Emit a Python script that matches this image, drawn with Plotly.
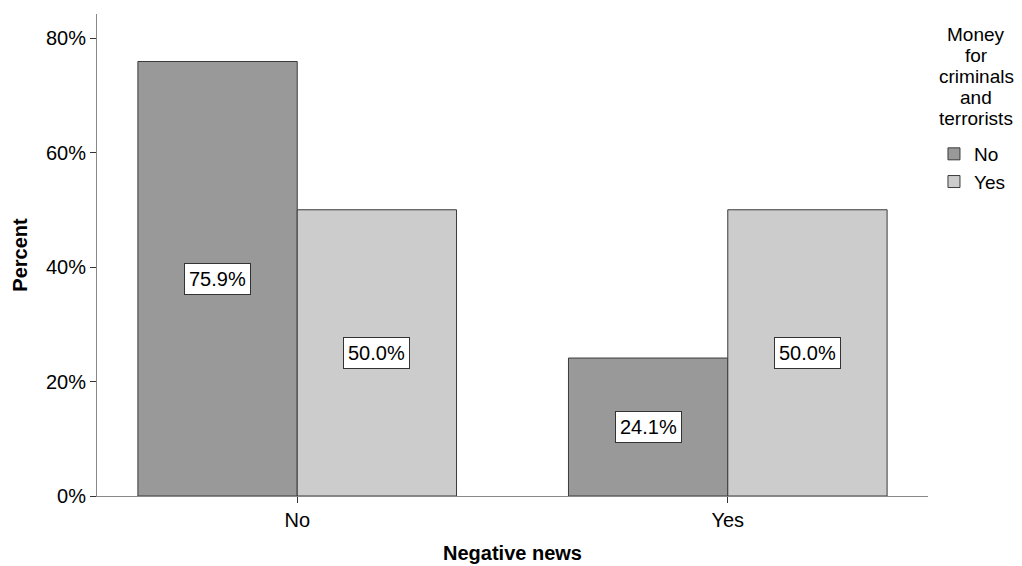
import plotly.graph_objects as go

categories = ["No", "Yes"]
series_names = ["No", "Yes"]
values_no = [75.9, 24.1]
values_yes = [50.0, 50.0]
colors = ["#999999", "#cccccc"]
y_ticks = [0, 20, 40, 60, 80]
y_tick_labels = ["0%", "20%", "40%", "60%", "80%"]
legend_title_lines = ["Money", "for", "criminals", "and", "terrorists"]

FONT = "Liberation Sans, Arial, sans-serif"
FS = 20
bargap = 0.26
bar_w = (1 - bargap) / 2

fig = go.Figure()
for name, vals, col in zip(series_names, [values_no, values_yes], colors):
    fig.add_trace(go.Bar(
        x=categories, y=vals, name=name,
        marker=dict(color=col, line=dict(color="#3a3a3a", width=1)),
    ))

annotations = []
for si, vals in enumerate([values_no, values_yes]):
    offset = (si - 0.5) * bar_w
    for ci, v in enumerate(vals):
        annotations.append(dict(
            x=ci + offset, y=v / 2, xref="x", yref="y",
            text=f"{v:.1f}%", showarrow=False,
            font=dict(family=FONT, size=FS, color="black"),
            bgcolor="white", bordercolor="#333333", borderwidth=1, borderpad=4,
        ))

# legend title lines (centered, tight line spacing)
PLOT_H = 482
for i, line in enumerate(legend_title_lines):
    annotations.append(dict(
        x=1.0578, y=0.983 - i * 21 / PLOT_H, xref="paper", yref="paper",
        xanchor="center", yanchor="top", text=line, showarrow=False,
        font=dict(family=FONT, size=19, color="black"),
    ))

fig.update_layout(
    width=1014, height=558,
    margin=dict(l=89, r=94, t=6, b=70),
    paper_bgcolor="white", plot_bgcolor="white",
    barmode="group", bargap=bargap, bargroupgap=0,
    font=dict(family=FONT, size=FS, color="black"),
    annotations=annotations,
    legend=dict(
        x=1.0072, xanchor="left", y=0.749, yanchor="top",
        font=dict(family=FONT, size=19),
        tracegroupgap=0, itemwidth=30,
    ),
    xaxis=dict(
        range=[-0.465, 1.465], showline=True, linecolor="#888888", linewidth=1,
        ticks="outside", ticklen=6, tickcolor="#333333",
        title=dict(text="<b>Negative news</b>", font=dict(family=FONT, size=FS), standoff=15),
        showgrid=False, zeroline=False,
    ),
    yaxis=dict(
        range=[0, 84.2], showline=True, linecolor="#888888", linewidth=1,
        tickvals=y_ticks, ticktext=y_tick_labels,
        ticks="outside", ticklen=6, tickcolor="#333333",
        title=dict(text="<b>Percent</b>", font=dict(family=FONT, size=FS), standoff=12),
        showgrid=False, zeroline=False,
    ),
)

fig.write_html("out.html")
